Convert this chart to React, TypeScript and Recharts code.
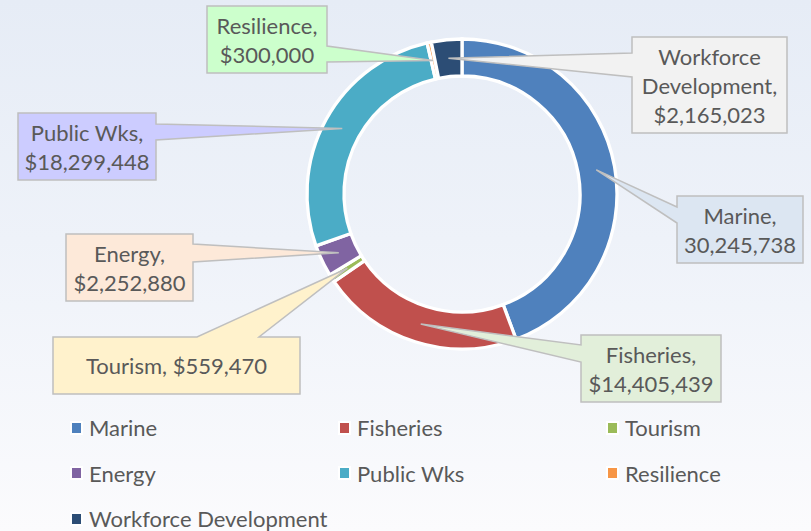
import { PieChart, Pie, Cell, Legend } from 'recharts'

const categories = ['Marine', 'Fisheries', 'Tourism', 'Energy', 'Public Wks', 'Resilience', 'Workforce Development']
const amounts = [30245738, 14405439, 559470, 2252880, 18299448, 300000, 2165023]
const currencyPrefix = ['', '$', '$', '$', '$', '$', '$']
const sliceColors = ['#4F81BD', '#C0504D', '#9BBB59', '#8064A2', '#4BACC6', '#F79646', '#2C4D75']

// callout boxes: where each label sits and which edge the pointer leaves from
const callouts = [
  { x: 677, y: 196, w: 126, h: 67, side: 'left', a: 207, b: 223, fill: '#DCE6F2', wrap: 'pair' },
  { x: 581, y: 335, w: 140, h: 67, side: 'left', a: 345, b: 362, fill: '#E2EFDA', wrap: 'pair' },
  { x: 53, y: 337, w: 247, h: 57, side: 'top', a: 197, b: 259, fill: '#FFF2CC', wrap: 'single' },
  { x: 66, y: 234, w: 127, h: 67, side: 'right', a: 244, b: 262, fill: '#FDE9D9', wrap: 'pair' },
  { x: 18, y: 113, w: 138, h: 67, side: 'right', a: 124, b: 140, fill: '#CCCCFF', wrap: 'pair' },
  { x: 207, y: 6, w: 120, h: 67, side: 'right', a: 46, b: 62, fill: '#CCFFCC', wrap: 'pair' },
  { x: 632, y: 37, w: 155, h: 96, side: 'left', a: 53, b: 77, fill: '#F2F2F2', wrap: 'words' },
]

const data = categories.map((name, i) => ({ name, value: amounts[i] }))

const FONT = 'Lato, "Open Sans", sans-serif'
const TEXT = '#595959'
const RADIAN = Math.PI / 180

const labelLines = (i: number, wrap: string) => {
  const val = currencyPrefix[i] + amounts[i].toLocaleString('en-US')
  const name = categories[i]
  if (wrap === 'single') return [`${name}, ${val}`]
  if (wrap === 'words') {
    const words = name.split(' ')
    words[words.length - 1] += ','
    return [...words, val]
  }
  return [`${name},`, val]
}

const calloutPath = (c: any, tx: number, ty: number) => {
  const { x, y, w, h, side, a, b } = c
  if (side === 'right')
    return `M${x},${y} L${x + w},${y} L${x + w},${a} L${tx},${ty} L${x + w},${b} L${x + w},${y + h} L${x},${y + h} Z`
  if (side === 'left')
    return `M${x},${y} L${x + w},${y} L${x + w},${y + h} L${x},${y + h} L${x},${b} L${tx},${ty} L${x},${a} Z`
  return `M${x},${y} L${a},${y} L${tx},${ty} L${b},${y} L${x + w},${y} L${x + w},${y + h} L${x},${y + h} Z`
}

const renderCallout = (props: any) => {
  const { cx, cy, midAngle, innerRadius, outerRadius, index } = props
  const c = callouts[index]
  const r = (innerRadius + outerRadius) / 2
  const tx = cx + r * Math.cos(-midAngle * RADIAN)
  const ty = cy + r * Math.sin(-midAngle * RADIAN)
  const lines = labelLines(index, c.wrap)
  const lh = 29
  const startY = c.y + c.h / 2 - ((lines.length - 1) * lh) / 2
  return (
    <g key={`callout-${index}`}>
      <path d={calloutPath(c, tx, ty)} fill={c.fill} stroke="#BFBFBF" strokeWidth={1.5} />
      <text x={c.x + c.w / 2} y={startY} textAnchor="middle" fill={TEXT} fontFamily={FONT} fontSize={22}>
        {lines.map((ln, k) => (
          <tspan key={k} x={c.x + c.w / 2} y={startY + k * lh} dominantBaseline="central">
            {ln}
          </tspan>
        ))}
      </text>
    </g>
  )
}

// legend kept in data order (recharts sorts its payload by name otherwise)
const renderLegend = () => (
  <div style={{ display: 'grid', gridTemplateColumns: '268px 268px 268px', paddingLeft: 72 }}>
    {categories.map((name, i) => (
      <div key={name} style={{ display: 'flex', alignItems: 'center', height: 45.5 }}>
        <span
          style={{
            display: 'inline-block',
            width: 9,
            height: 10,
            background: sliceColors[i],
            boxShadow: '0 0 0 2px #fff',
          }}
        />
        <span style={{ marginLeft: 8, fontFamily: FONT, fontSize: 22, color: TEXT, whiteSpace: 'nowrap' }}>
          {name}
        </span>
      </div>
    ))}
  </div>
)

export default function App() {
  return (
    <div
      style={{
        position: 'absolute',
        left: 0,
        top: 0,
        width: 811,
        height: 531,
        background: 'linear-gradient(to bottom, #E6ECF6 0%, #EEF2F9 45%, #FBFBFD 100%)',
        overflow: 'hidden',
      }}
    >
      <PieChart width={811} height={531} margin={{ top: 0, right: 0, bottom: 0, left: 0 }}>
        <Pie
          data={data}
          dataKey="value"
          nameKey="name"
          cx={462}
          cy={194}
          innerRadius={118}
          outerRadius={155}
          startAngle={90}
          endAngle={-270}
          stroke="#FFFFFF"
          strokeWidth={3.3}
          label={renderCallout}
          labelLine={false}
          isAnimationActive={false}
        >
          {data.map((d, i) => (
            <Cell key={d.name} fill={sliceColors[i]} />
          ))}
        </Pie>
        <Legend
          content={renderLegend}
          verticalAlign="bottom"
          wrapperStyle={{ left: 0, top: 405, bottom: 'auto', width: 811 }}
        />
      </PieChart>
    </div>
  )
}
